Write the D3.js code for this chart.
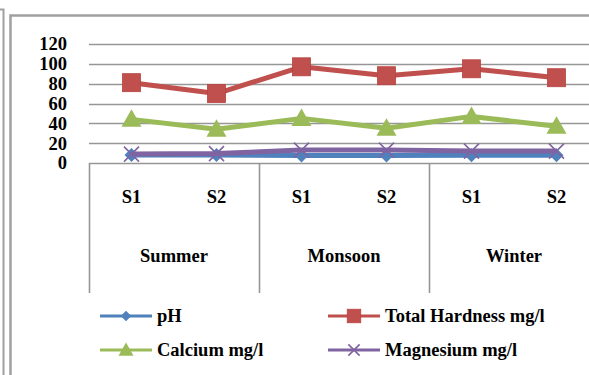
<!DOCTYPE html>
<html><head><meta charset="utf-8">
<script src="https://cdn.jsdelivr.net/npm/d3@7"></script>
<style>body{margin:0;background:#fff}svg{display:block}text{font-family:"Liberation Serif","Times New Roman",serif;font-weight:bold;fill:#000}</style>
</head><body>
<svg id="c" width="589" height="375"></svg>
<script>
const seasons = ["Summer","Monsoon","Winter"];
const sites = ["S1","S2"];
const yTicks = [0,20,40,60,80,100,120];
const pH = [8.1, 8.0, 7.6, 7.5, 7.8, 7.7];
const totalHardness = [81, 70, 97, 88, 95, 86];
const calcium = [44, 34, 45, 35, 47, 37];
const magnesium = [9, 9.5, 13, 13, 12, 12];
const seriesNames = ["pH","Total Hardness mg/l","Calcium mg/l","Magnesium mg/l"];
const seriesColors = ["#4F81BD","#C0504D","#9BBB59","#8064A2"];
const seriesMarkers = ["diamond","square","triangle","x"];

const keys = [];
seasons.forEach(s => sites.forEach(t => keys.push(s + "|" + t)));
const series = [pH, totalHardness, calcium, magnesium].map((v,i)=>({name:seriesNames[i],values:v,color:seriesColors[i],marker:seriesMarkers[i]}));

const svg = d3.select("#c");
const FS = "18.5px";
// frames
svg.append("path").attr("d","M0,9.5H3.5V375").attr("fill","none").attr("stroke","#a0a0a0").attr("stroke-width",2);
svg.append("path").attr("d","M10.5,375V15.5H589").attr("fill","none").attr("stroke","#a0a0a0").attr("stroke-width",2.5);

const x0 = 89, groupW = 170;
const x = d3.scalePoint().domain(keys).range([x0, x0 + groupW*3]).padding(0.5);
const y = d3.scaleLinear().domain([0,120]).range([163,44]);

// gridlines
svg.append("g").selectAll("line").data(yTicks).join("line")
  .attr("x1",x0).attr("x2",600).attr("y1",d=>Math.round(y(d))+0.5).attr("y2",d=>Math.round(y(d))+0.5)
  .attr("stroke","#969696").attr("stroke-width",1.6);

// y labels
svg.append("g").selectAll("text").data(yTicks).join("text")
  .attr("x",67).attr("y",d=>y(d)).attr("dy","0.35em").attr("text-anchor","end")
  .style("font-size",FS).text(d=>d);

// category separators
const seps = d3.range(seasons.length+1).map(i=>x0+i*groupW);
svg.append("g").selectAll("line").data(seps).join("line")
  .attr("x1",d=>d+0.5).attr("x2",d=>d+0.5).attr("y1",163).attr("y2",293)
  .attr("stroke","#969696").attr("stroke-width",1.6);

// site labels
svg.append("g").selectAll("text").data(keys).join("text")
  .attr("x",d=>x(d)).attr("y",197).attr("dy","0.35em").attr("text-anchor","middle")
  .style("font-size",FS).text(d=>d.split("|")[1]);
// season labels
svg.append("g").selectAll("text").data(seasons).join("text")
  .attr("x",(d,i)=>x0+groupW*i+groupW/2).attr("y",256).attr("dy","0.35em").attr("text-anchor","middle")
  .style("font-size",FS).text(d=>d);

function marker(g, type, color, cx, cy, scale){
  scale = scale||1;
  if(type==="diamond"){
    const r=7*scale;
    g.append("path").attr("d",`M${cx},${cy-r}L${cx+r},${cy}L${cx},${cy+r}L${cx-r},${cy}Z`).attr("fill",color);
  } else if(type==="square"){
    const r=9*scale;
    g.append("rect").attr("x",cx-r).attr("y",cy-r).attr("width",2*r).attr("height",2*r).attr("fill",color).attr("stroke","#b8423f").attr("stroke-width",0.8);
  } else if(type==="triangle"){
    const r=10*scale;
    g.append("path").attr("d",`M${cx},${cy-r}L${cx+r},${cy+r*0.75}L${cx-r},${cy+r*0.75}Z`).attr("fill",color);
  } else if(type==="x"){
    const r=7.5*scale;
    g.append("path").attr("d",`M${cx-r},${cy-r}L${cx+r},${cy+r}M${cx+r},${cy-r}L${cx-r},${cy+r}`).attr("stroke",color).attr("stroke-width",1.6);
  }
}

const line = d3.line().x((d,i)=>x(keys[i])).y(d=>y(d));
series.forEach(s=>{
  const g = svg.append("g");
  g.append("path").attr("d",line(s.values)).attr("fill","none").attr("stroke",s.color).attr("stroke-width",5).attr("stroke-linejoin","round");
  s.values.forEach((v,i)=>marker(g,s.marker,s.color,x(keys[i]),y(v)));
});

// legend
const legPos = [[100,316],[328,316],[100,350],[328,350]];
series.forEach((s,i)=>{
  const [lx,ly]=legPos[i];
  const g = svg.append("g");
  g.append("line").attr("x1",lx).attr("x2",lx+52).attr("y1",ly).attr("y2",ly).attr("stroke",s.color).attr("stroke-width",3);
  marker(g,s.marker,s.color,lx+26,ly,0.75);
  g.append("text").attr("x",lx+57).attr("y",ly).attr("dy","0.35em").style("font-size",FS).text(s.name);
});
</script>
</body></html>
